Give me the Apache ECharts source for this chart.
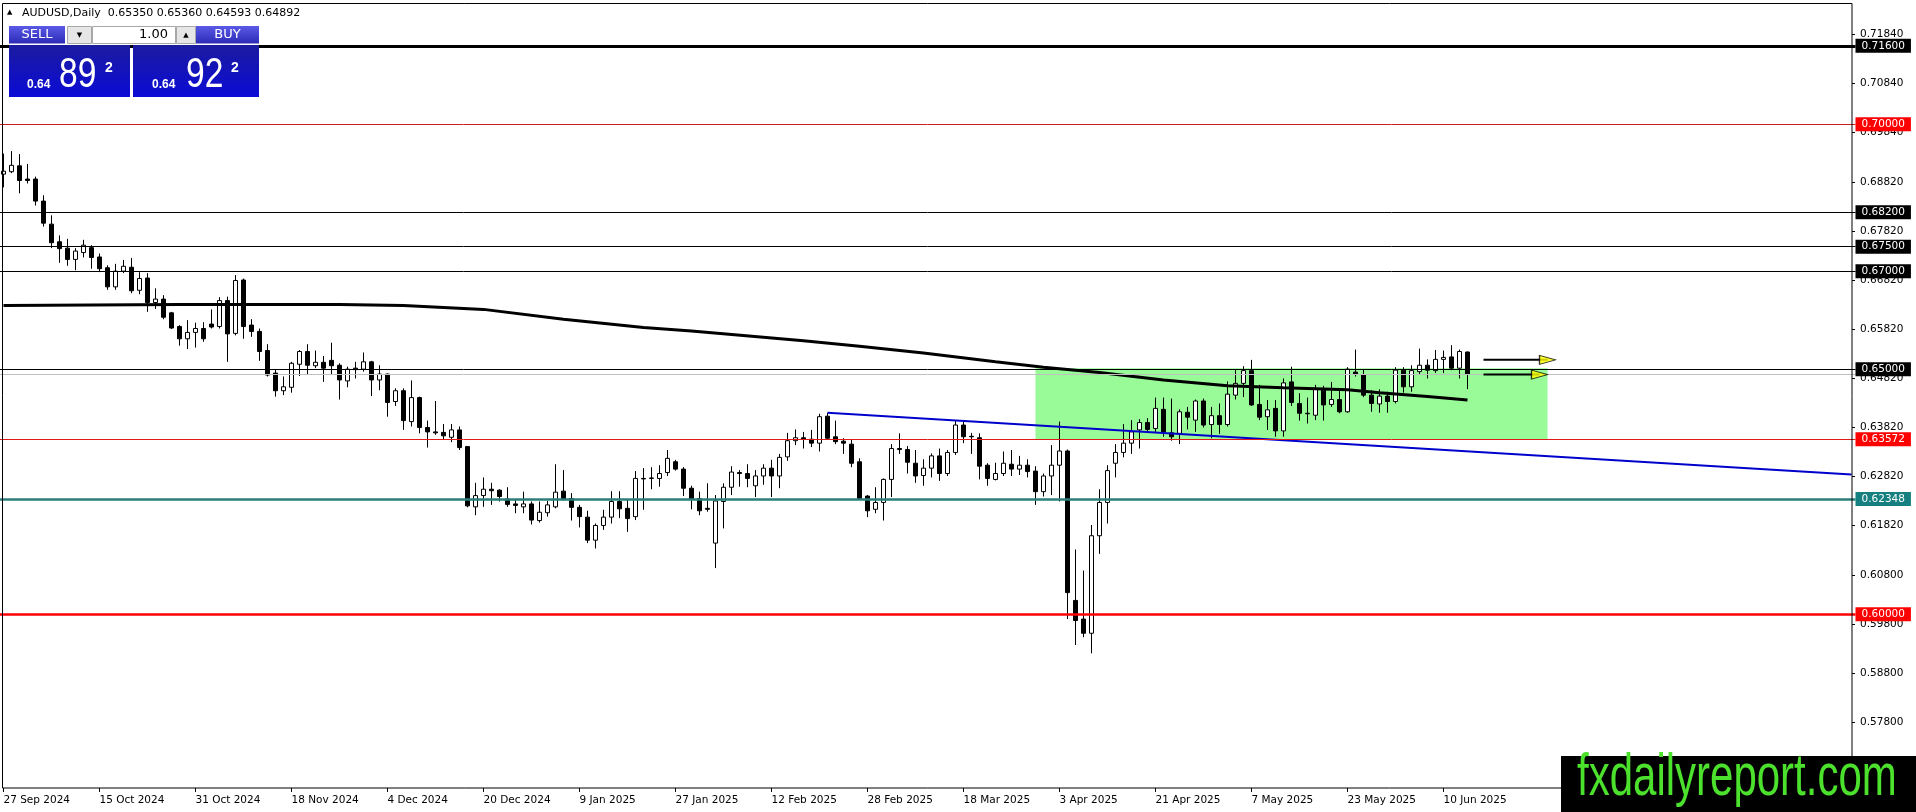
<!DOCTYPE html>
<html>
<head>
<meta charset="utf-8">
<title>AUDUSD Daily</title>
<script src="https://cdn.jsdelivr.net/npm/echarts@6.0.0/dist/echarts.min.js"></script>
<style>
html,body{margin:0;padding:0;background:#ffffff;overflow:hidden;}
#chart{width:1916px;height:812px;}
</style>
</head>
<body>
<div id="chart"></div>
<script>
// ---------- data ----------
const dateTicks = ["27 Sep 2024","15 Oct 2024","31 Oct 2024","18 Nov 2024","4 Dec 2024","20 Dec 2024","9 Jan 2025","27 Jan 2025","12 Feb 2025","28 Feb 2025","18 Mar 2025","3 Apr 2025","21 Apr 2025","7 May 2025","23 May 2025","10 Jun 2025"];
const barsPerTick = 12;
const slotCount = 232;

const opens = [0.6898,0.6903,0.6915,0.6888,0.6888,0.6843,0.6796,0.6760,0.6747,0.6724,
0.6738,0.6748,0.6729,0.6707,0.6668,0.6700,0.6708,0.6661,0.6686,0.6636,
0.6643,0.6615,0.6587,0.6562,0.6575,0.6583,0.6592,0.6587,0.6640,0.6573,
0.6682,0.6590,0.6577,0.6538,0.6492,0.6456,0.6463,0.6510,0.6536,0.6507,
0.6514,0.6518,0.6508,0.6476,0.6502,0.6500,0.6515,0.6478,0.6490,0.6434,
0.6456,0.6393,0.6442,0.6381,0.6372,0.6371,0.6361,0.6376,0.6342,0.6219,
0.6242,0.6255,0.6253,0.6235,0.6225,0.6219,0.6225,0.6191,0.6207,0.6219,
0.6251,0.6236,0.6218,0.6198,0.6151,0.6181,0.6198,0.6230,0.6216,0.6199,
0.6277,0.6277,0.6277,0.6289,0.6311,0.6296,0.6257,0.6236,0.6216,0.6145,
0.6230,0.6259,0.6289,0.6287,0.6262,0.6282,0.6298,0.6282,0.6321,0.6354,
0.6360,0.6357,0.6349,0.6404,0.6362,0.6353,0.6347,0.6311,0.6241,0.6214,
0.6228,0.6275,0.6338,0.6336,0.6308,0.6283,0.6298,0.6323,0.6287,0.6330,
0.6386,0.6363,0.6360,0.6304,0.6275,0.6287,0.6306,0.6296,0.6304,0.6292,
0.6250,0.6282,0.6304,0.6333,0.6028,0.5990,0.5961,0.6160,0.6228,0.6308,
0.6330,0.6349,0.6376,0.6391,0.6379,0.6418,0.6370,0.6369,0.6412,0.6396,
0.6435,0.6387,0.6405,0.6387,0.6447,0.6471,0.6497,0.6428,0.6403,0.6420,
0.6374,0.6474,0.6430,0.6410,0.6406,0.6459,0.6428,0.6438,0.6413,0.6494,
0.6489,0.6447,0.6429,0.6445,0.6434,0.6498,0.6464,0.6495,0.6508,0.6497,
0.6520,0.6525,0.6502,0.6535];

const highs = [0.6940,0.6945,0.6939,0.6919,0.6893,0.6855,0.6814,0.6773,0.6766,0.6747,
0.6764,0.6753,0.6736,0.6712,0.6715,0.6723,0.6727,0.6698,0.6696,0.6665,
0.6651,0.6617,0.6590,0.6600,0.6595,0.6596,0.6622,0.6647,0.6648,0.6692,
0.6685,0.6602,0.6583,0.6551,0.6500,0.6485,0.6515,0.6539,0.6551,0.6538,
0.6527,0.6554,0.6512,0.6505,0.6515,0.6534,0.6517,0.6508,0.6491,0.6461,
0.6461,0.6477,0.6444,0.6395,0.6435,0.6388,0.6388,0.6383,0.6343,0.6268,
0.6279,0.6268,0.6255,0.6259,0.6235,0.6250,0.6230,0.6230,0.6231,0.6306,
0.6294,0.6247,0.6223,0.6211,0.6185,0.6213,0.6251,0.6251,0.6233,0.6292,
0.6298,0.6300,0.6304,0.6335,0.6315,0.6300,0.6262,0.6250,0.6267,0.6243,
0.6267,0.6302,0.6294,0.6306,0.6294,0.6306,0.6315,0.6327,0.6370,0.6377,
0.6372,0.6376,0.6409,0.6411,0.6395,0.6359,0.6357,0.6318,0.6243,0.6259,
0.6277,0.6347,0.6369,0.6343,0.6335,0.6316,0.6328,0.6338,0.6335,0.6395,
0.6395,0.6370,0.6369,0.6308,0.6309,0.6332,0.6335,0.6323,0.6316,0.6302,
0.6287,0.6345,0.6393,0.6336,0.6132,0.6089,0.6182,0.6255,0.6304,0.6347,
0.6388,0.6396,0.6398,0.6400,0.6442,0.6442,0.6440,0.6418,0.6423,0.6438,
0.6440,0.6423,0.6430,0.6475,0.6498,0.6506,0.6519,0.6468,0.6437,0.6437,
0.6481,0.6505,0.6451,0.6442,0.6468,0.6466,0.6474,0.6459,0.6504,0.6540,
0.6500,0.6457,0.6459,0.6454,0.6504,0.6504,0.6508,0.6542,0.6520,0.6539,
0.6538,0.6549,0.6540,0.65360];

const lows = [0.6871,0.6900,0.6859,0.6879,0.6834,0.6791,0.6747,0.6717,0.6711,0.6702,
0.6728,0.6705,0.6698,0.6662,0.6662,0.6696,0.6655,0.6653,0.6617,0.6623,
0.6602,0.6582,0.6548,0.6541,0.6544,0.6556,0.6583,0.6583,0.6515,0.6569,
0.6562,0.6566,0.6517,0.6485,0.6444,0.6447,0.6452,0.6486,0.6488,0.6502,
0.6474,0.6490,0.6438,0.6463,0.6481,0.6495,0.6445,0.6457,0.6403,0.6425,
0.6376,0.6383,0.6369,0.6340,0.6366,0.6357,0.6351,0.6335,0.6218,0.6202,
0.6219,0.6223,0.6230,0.6219,0.6206,0.6206,0.6183,0.6187,0.6199,0.6216,
0.6232,0.6191,0.6177,0.6145,0.6134,0.6172,0.6185,0.6196,0.6168,0.6192,
0.6213,0.6255,0.6260,0.6282,0.6293,0.6241,0.6214,0.6202,0.6209,0.6094,
0.6175,0.6243,0.6260,0.6259,0.6239,0.6264,0.6239,0.6257,0.6313,0.6345,
0.6338,0.6341,0.6332,0.6356,0.6347,0.6327,0.6300,0.6233,0.6198,0.6206,
0.6191,0.6239,0.6327,0.6287,0.6268,0.6262,0.6279,0.6272,0.6282,0.6325,
0.6349,0.6327,0.6275,0.6262,0.6273,0.6282,0.6282,0.6284,0.6279,0.6223,
0.6240,0.6243,0.6230,0.5990,0.5937,0.5953,0.5920,0.6123,0.6185,0.6279,
0.6320,0.6327,0.6338,0.6372,0.6370,0.6362,0.6354,0.6347,0.6377,0.6372,
0.6381,0.6359,0.6368,0.6383,0.6438,0.6443,0.6425,0.6396,0.6376,0.6362,
0.6362,0.6425,0.6395,0.6389,0.6396,0.6395,0.6423,0.6410,0.6411,0.6485,
0.6443,0.6413,0.6411,0.6411,0.6430,0.6452,0.6454,0.6490,0.6481,0.6492,
0.6492,0.6498,0.6481,0.64593];

const closes = [0.6904,0.6916,0.6885,0.6885,0.6843,0.6798,0.6758,0.6746,0.6724,0.6741,
0.6753,0.6728,0.6705,0.6668,0.6700,0.6710,0.6660,0.6685,0.6636,0.6643,
0.6606,0.6584,0.6562,0.6575,0.6583,0.6562,0.6586,0.6640,0.6572,0.6681,
0.6587,0.6577,0.6536,0.6488,0.6456,0.6464,0.6512,0.6536,0.6508,0.6514,
0.6502,0.6507,0.6478,0.6500,0.6499,0.6515,0.6478,0.6490,0.6432,0.6456,
0.6395,0.6442,0.6381,0.6372,0.6370,0.6364,0.6376,0.6340,0.6221,0.6242,
0.6255,0.6252,0.6240,0.6224,0.6222,0.6225,0.6192,0.6208,0.6223,0.6249,
0.6234,0.6218,0.6199,0.6151,0.6181,0.6198,0.6230,0.6215,0.6195,0.6277,
0.6276,0.6278,0.6287,0.6318,0.6296,0.6257,0.6234,0.6211,0.6214,0.6231,
0.6259,0.6290,0.6287,0.6277,0.6282,0.6298,0.6282,0.6320,0.6354,0.6360,
0.6357,0.6349,0.6403,0.6359,0.6352,0.6349,0.6308,0.6236,0.6211,0.6228,
0.6275,0.6338,0.6336,0.6310,0.6282,0.6298,0.6323,0.6287,0.6330,0.6386,
0.6362,0.6362,0.6302,0.6277,0.6287,0.6308,0.6296,0.6304,0.6291,0.6250,
0.6282,0.6304,0.6333,0.6044,0.5987,0.5961,0.6160,0.6228,0.6293,0.6330,
0.6349,0.6372,0.6391,0.6377,0.6420,0.6372,0.6362,0.6413,0.6402,0.6435,
0.6386,0.6405,0.6387,0.6449,0.6471,0.6497,0.6427,0.6402,0.6417,0.6374,
0.6472,0.6432,0.6410,0.6409,0.6459,0.6427,0.6438,0.6413,0.6500,0.6490,
0.6447,0.6430,0.6445,0.6434,0.6498,0.6464,0.6497,0.6508,0.6498,0.6520,
0.6524,0.6502,0.6536,0.64892];

// moving average, read at sample bars
const maBars   = [0, 22, 42, 50, 60, 70, 80, 86, 100, 107, 115, 124, 130, 137, 145, 153, 160, 168, 172, 178, 183];
const maValues = [0.6630,0.6632,0.6632,0.6630,0.6622,0.6602,0.6585,0.6578,0.6558,0.6547,0.6533,0.6515,0.6504,0.6493,0.6478,0.6466,0.6462,0.6458,0.6452,0.6444,0.6437];

// drawn objects
const trendBars = [103, 231];
const trendValues = [0.6411, 0.6285];
const boxBars = [129, 193];
const boxPrices = [0.6502, 0.6357];
const arrowPrices = [0.6519, 0.6489];
const arrowTailBars = [185, 185];
const arrowHeadBars = [193, 192];

const levelPrices = [0.71600, 0.70000, 0.68200, 0.67500, 0.67000, 0.65000, 0.63572, 0.62348, 0.60000];
const bidPrice = 0.64892;
const yTicks = [0.71840,0.70840,0.69840,0.68820,0.67820,0.66820,0.65820,0.64820,0.63820,0.62820,0.61820,0.60800,0.59800,0.58800,0.57800];
const yMin = 0.56452, yMax = 0.72473;

const headerText = "AUDUSD,Daily  0.65350 0.65360 0.64593 0.64892";
const sellBig = "89", buyBig = "92", pricePrefix = "0.64", pipFraction = "2", lotText = "1.00";

// ---------- styles ----------
const FONT = 'DejaVu Sans';
const levelColors  = ['#000000','#c82020','#000000','#000000','#000000','#000000','#e01818','#2a7f7b','#ff0000'];
const levelWidths  = [3,1,1,1,1,1,1,2.5,2.5];
const levelLabelBg = ['#000000','#ff0000','#000000','#000000','#000000','#000000','#ff0000','#168080','#ff0000'];

const categories = [];
for (let i = 0; i < slotCount; i++) {
  const k = i / barsPerTick;
  categories.push(Number.isInteger(k) && k < dateTicks.length ? dateTicks[k] : '');
}
const showTick = (idx) => idx % barsPerTick === 0 && idx / barsPerTick < dateTicks.length;

const candles = opens.map((o, i) => [o, closes[i], lows[i], highs[i]]);
const maData = maBars.map((b, i) => [b, maValues[i]]);
const trendData = trendBars.map((b, i) => [b, trendValues[i]]);

const levelData = levelPrices.map((p, i) => ({
  yAxis: p,
  lineStyle: {color: levelColors[i], width: levelWidths[i], type: 'solid'},
  label: {show: true, position: 'end', distance: 0, formatter: p.toFixed(5), color: '#ffffff',
          backgroundColor: levelLabelBg[i], padding: [2, 6, 1, 6], fontFamily: FONT, fontSize: 10.5, lineHeight: 11}
}));
levelData.unshift({yAxis: bidPrice, lineStyle: {color: '#c0c0c0', width: 1, type: 'solid'}, label: {show: false}});

const arrowSeries = [];
arrowPrices.forEach((p, i) => {
  arrowSeries.push({type: 'line', data: [[arrowTailBars[i], p], [arrowHeadBars[i], p]], symbol: 'none',
    lineStyle: {color: '#000', width: 2}, z: 6, silent: true, animation: false});
});
arrowSeries.push({type: 'scatter', data: arrowPrices.map((p, i) => [arrowHeadBars[i], p]),
  symbol: 'triangle', symbolRotate: -90, symbolSize: [9, 16],
  itemStyle: {color: '#ffff00', borderColor: '#000', borderWidth: 1}, z: 7, silent: true, animation: false});

const blueTop = {type: 'linear', x: 0, y: 0, x2: 0, y2: 1, colorStops: [{offset: 0, color: '#5a5ae6'}, {offset: 1, color: '#2b2bb8'}]};
const blueBottom = {type: 'linear', x: 0, y: 0, x2: 0, y2: 1, colorStops: [{offset: 0, color: '#1b1ba0'}, {offset: 1, color: '#0b0bd6'}]};

function txt(x, y, text, font, fill, align, vAlign, extra) {
  return Object.assign({type: 'text', x: x, y: y, z: 100, silent: true,
    style: {x: 0, y: 0, text: text, font: font, fill: fill, textAlign: align, textVerticalAlign: vAlign, align: align, verticalAlign: vAlign}}, extra || {});
}
function rect(x, y, w, h, fill, stroke, z) {
  return {type: 'rect', z: z || 100, silent: true, shape: {x: x, y: y, width: w, height: h},
    style: {fill: fill, stroke: stroke || null, lineWidth: 1}};
}

const graphics = [
  // plot frame
  {type: 'rect', z: 40, silent: true, shape: {x: 2.5, y: 3.5, width: 1849.5, height: 784.5}, style: {fill: null, stroke: '#000', lineWidth: 1}},
  // header
  txt(7, 12, '\u25B2', '7px "DejaVu Sans"', '#000', 'left', 'middle'),
  txt(22, 13, headerText, '11px "DejaVu Sans"', '#000', 'left', 'middle'),
  // trade panel top row
  rect(9, 26, 56, 17.5, blueTop),
  txt(37, 35, 'SELL', '13px "DejaVu Sans"', '#fff', 'center', 'middle'),
  rect(67.5, 26.5, 24, 17, '#e6e6e6', '#a8a8a8'),
  txt(79.5, 35, '\u25BC', '7px "DejaVu Sans"', '#000', 'center', 'middle'),
  rect(92.5, 26.5, 83, 17, '#ffffff', '#a8a8a8'),
  txt(168, 35, lotText, '13px "DejaVu Sans"', '#000', 'right', 'middle'),
  rect(176.5, 26.5, 19, 17, '#e6e6e6', '#a8a8a8'),
  txt(186, 35, '\u25B2', '7px "DejaVu Sans"', '#000', 'center', 'middle'),
  rect(196, 26, 63, 17.5, blueTop),
  txt(227.5, 35, 'BUY', '13px "DejaVu Sans"', '#fff', 'center', 'middle'),
  // trade panel price boxes
  rect(9, 45, 121, 52, blueBottom),
  rect(133, 45, 126, 52, blueBottom),
  txt(27, 85, pricePrefix, 'bold 12px "Liberation Sans"', '#fff', 'left', 'middle'),
  txt(59, 75, sellBig, '42px "Liberation Sans"', '#fff', 'left', 'middle', {scaleX: 0.8}),
  txt(105, 68, pipFraction, 'bold 14px "Liberation Sans"', '#fff', 'left', 'middle'),
  txt(152, 85, pricePrefix, 'bold 12px "Liberation Sans"', '#fff', 'left', 'middle'),
  txt(186, 75, buyBig, '42px "Liberation Sans"', '#fff', 'left', 'middle', {scaleX: 0.8}),
  txt(231, 68, pipFraction, 'bold 14px "Liberation Sans"', '#fff', 'left', 'middle'),
  // watermark
  rect(1561, 756, 355, 56, '#000000'),
  txt(1577, 808, 'fxdailyreport.com', '60px "Liberation Sans"', '#4be12c', 'left', 'bottom', {scaleX: 0.70})
];

const chart = echarts.init(document.getElementById('chart'), null, {renderer: 'canvas'});
chart.setOption({
  animation: false,
  backgroundColor: '#ffffff',
  grid: {left: -0.5, right: 60.5, top: 3, bottom: 24, show: false, containLabel: false, outerBoundsMode: 'none'},
  xAxis: {
    type: 'category', data: categories, boundaryGap: true,
    axisLine: {show: false},
    axisTick: {show: true, interval: showTick, alignWithLabel: true, length: 4, lineStyle: {color: '#000', width: 1}},
    axisLabel: {show: true, interval: showTick, align: 'left', margin: 7, color: '#000', fontFamily: FONT, fontSize: 10.5, hideOverlap: false},
    splitLine: {show: false}
  },
  yAxis: {
    type: 'value', position: 'right', min: yMin, max: yMax, offset: -3.5,
    axisLine: {show: false},
    axisTick: {show: true, length: 3, customValues: yTicks, lineStyle: {color: '#000'}},
    axisLabel: {show: true, customValues: yTicks, formatter: (v) => v.toFixed(5), margin: 8, color: '#000', fontFamily: FONT, fontSize: 10.5, hideOverlap: false},
    splitLine: {show: false}
  },
  graphic: graphics,
  series: [
    {type: 'line', data: [], z: 1, silent: true,
     markArea: {silent: true, itemStyle: {color: '#98fb98', opacity: 1}, label: {show: false},
       data: [[{coord: [boxBars[0], boxPrices[0]]}, {coord: [boxBars[1], boxPrices[1]]}]]}},
    {type: 'candlestick', data: candles, barWidth: 4, z: 3, silent: true,
     itemStyle: {color: '#ffffff', color0: '#000000', borderColor: '#000000', borderColor0: '#000000', borderColorDoji: '#000000', borderWidth: 1}},
    {type: 'line', data: maData, symbol: 'none', z: 4, silent: true, lineStyle: {color: '#000000', width: 3}},
    {type: 'line', data: trendData, symbol: 'none', z: 4, silent: true, lineStyle: {color: '#0000cc', width: 2}},
    {type: 'line', data: [], z: 5, silent: true,
     markLine: {silent: true, symbol: ['none', 'none'], animation: false, precision: 5, data: levelData}}
  ].concat(arrowSeries)
});
</script>
</body>
</html>
